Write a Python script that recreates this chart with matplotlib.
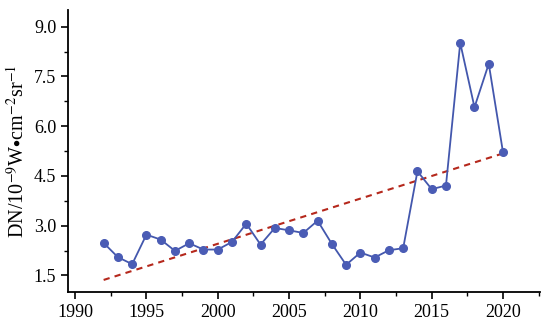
import numpy as np
import matplotlib
matplotlib.use("Agg")
import matplotlib.pyplot as plt
from matplotlib import font_manager
from matplotlib.ticker import MultipleLocator, FormatStrFormatter

print(sorted({f.name for f in font_manager.fontManager.ttflist if 'Lib' in f.name or 'STIX' in f.name}))

plt.rcParams['font.family'] = ['Liberation Serif', 'STIXGeneral', 'DejaVu Serif']
plt.rcParams['mathtext.fontset'] = 'stix'

# Data
years = np.arange(1992, 2021)
dn = [2.48, 2.05, 1.84, 2.73, 2.58, 2.24, 2.47, 2.28, 2.28, 2.51,
      3.06, 2.43, 2.93, 2.86, 2.78, 3.15, 2.45, 1.82, 2.19, 2.04,
      2.26, 2.32, 4.64, 4.10, 4.21, 8.51, 6.57, 7.88, 5.21]

# linear trend
k, b = np.polyfit(years, dn, 1)
trend = k * years + b

fig = plt.figure(figsize=(5.5, 3.25), dpi=100)
ax = fig.add_axes([0.1236, 0.1015, 0.8584, 0.8675])

ax.plot(years, dn, color='#4357ad', lw=1.3, marker='o', ms=5.5,
        mfc='#4a5cb5', mec='#4a5cb5', zorder=3)
ax.plot(years, trend, color='#b5281c', lw=1.5, ls=(0, (3, 2.5)), zorder=2)

ax.set_xlim(1989.5, 2022.6)
ax.set_ylim(1.0, 9.5)
ax.xaxis.set_major_locator(MultipleLocator(5))
ax.xaxis.set_minor_locator(MultipleLocator(2.5))
ax.yaxis.set_major_locator(MultipleLocator(1.5))
ax.yaxis.set_minor_locator(MultipleLocator(0.75))
ax.yaxis.set_major_formatter(FormatStrFormatter('%.1f'))

for s in ['top', 'right']:
    ax.spines[s].set_visible(False)
for s in ['left', 'bottom']:
    ax.spines[s].set_linewidth(1.3)
ax.tick_params(which='major', direction='out', length=5, width=1.2, labelsize=13)
ax.tick_params(which='minor', direction='out', length=3, width=1.0)

ax.set_ylabel(r'DN/10$^{-9}$W$\bullet$cm$^{-2}$sr$^{-1}$', fontsize=14.5, labelpad=4)

fig.savefig('out.png', dpi=100)
